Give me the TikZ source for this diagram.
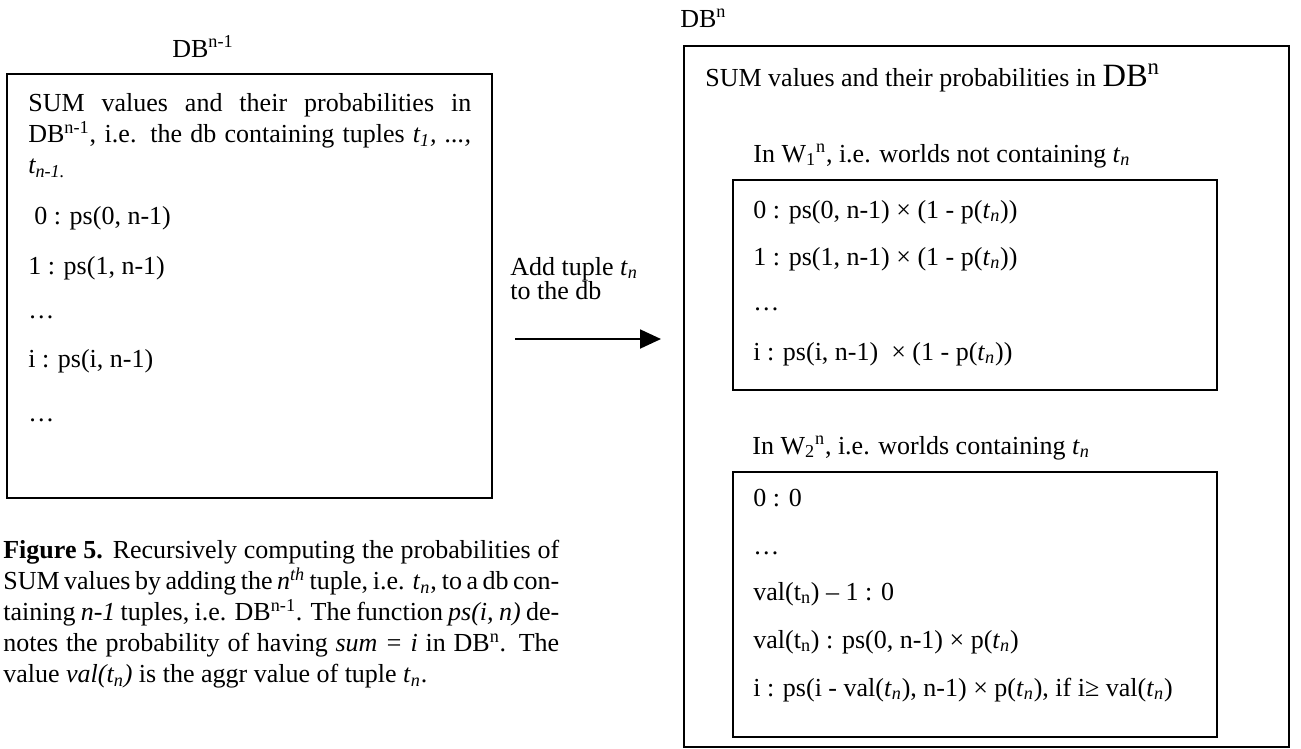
\documentclass[tikz,border=0pt]{standalone}
\usepackage{fontspec}
\setmainfont{Liberation Serif}
\usetikzlibrary{arrows.meta}
\newcommand{\tsubn}{\textit{t}\textsubscript{\textit{n}}}

\begin{document}
\begin{tikzpicture}[x=0.02cm, y=-0.02cm,
  font=\fontsize{14.8}{17.6}\selectfont,
  frame/.style={draw, line width=1.1pt, inner sep=0pt},
  txt/.style={anchor=base west, inner sep=0pt},
  para/.style={anchor=north west, inner sep=0pt, align=justify},
  flow/.style={line width=1.1pt, -{Triangle[length=4.2mm, width=3.8mm]}}]
  \useasboundingbox (0,0) rectangle (1301,748);
  % database before the new tuple
  \node[txt] (oldlbl) at (172,57) {DB\textsuperscript{n-1}};
  \node[frame, minimum width=9.7cm, minimum height=8.48cm] (olddb) at (249.5,286) {};
  \node[para, text width=8.86cm] (oldsum) at (28,93) {SUM values and their probabilities in\linebreak DB\textsuperscript{n-1}, i.e. the db containing tuples \textit{t\textsubscript{1}, ...,}\linebreak \textit{t\textsubscript{n-1.}}};
  \node[txt] (old0) at (34,224) {0 : ps(0, n-1)};
  \node[txt] (old1) at (28,274) {1 : ps(1, n-1)};
  \node[txt] (olddots) at (28,318) {…};
  \node[txt] (oldi) at (28,367) {i : ps(i, n-1)};
  \node[txt] (olddots2) at (28,421) {…};
  % caption
  \node[para, text width=11.12cm] (caption) at (3,540) {\textbf{Figure 5.} Recursively computing the probabilities of\linebreak SUM values by adding the \textit{n\textsuperscript{th}} tuple, i.e. \tsubn, to a db con-\linebreak taining \textit{n-1} tuples, i.e. DB\textsuperscript{n-1}. The function \textit{ps(i, n)} de-\linebreak notes the probability of having \textit{sum = i} in DB\textsuperscript{n}. The\linebreak value \textit{val(t\textsubscript{n})} is the aggr value of tuple \tsubn.};
  % step
  \node[txt] (addlbl) at (510,275) {Add tuple \tsubn};
  \node[txt] (addlbl2) at (510,299) {to the db};
  \coordinate (arrs) at (515,339);
  \coordinate (arre) at (661,339);
  \draw[flow] (arrs) -- (arre);
  % database with the new tuple
  \node[txt] (newlbl) at (680,27) {DB\textsuperscript{n}};
  \node[frame, minimum width=12.1cm, minimum height=14.02cm] (newdb) at (986.5,396.5) {};
  \node[txt] (newsum) at (705,86) {SUM values and their probabilities in {\fontsize{18.5}{20}\selectfont DB\textsuperscript{n}}};
  \node[txt] (w1lbl) at (753,162) {In W\textsubscript{1}\textsuperscript{n}, i.e. worlds not containing \tsubn};
  \node[frame, minimum width=9.68cm, minimum height=4.2cm] (w1box) at (975,285) {};
  \node[txt] (w1a) at (753,218) {0 : ps(0, n-1) × (1 - p(\tsubn))};
  \node[txt] (w1b) at (753,265) {1 : ps(1, n-1) × (1 - p(\tsubn))};
  \node[txt] (w1c) at (753,310) {…};
  \node[txt] (w1d) at (753,360) {i : ps(i, n-1) ~× (1 - p(\tsubn))};
  \node[txt] (w2lbl) at (752,454) {In W\textsubscript{2}\textsuperscript{n}, i.e. worlds containing \tsubn};
  \node[frame, minimum width=9.68cm, minimum height=5.3cm] (w2box) at (975,604.5) {};
  \node[txt] (w2a) at (753,506) {0 : 0};
  \node[txt] (w2b) at (753,554) {…};
  \node[txt] (w2c) at (753,600) {val(t\textsubscript{n}) – 1 : 0};
  \node[txt] (w2d) at (753,648) {val(t\textsubscript{n}) : ps(0, n-1) × p(\tsubn)};
  \node[txt] (w2e) at (753,696) {i : ps(i - val(\tsubn), n-1) × p(\tsubn), if i≥ val(\tsubn)};
\end{tikzpicture}
\end{document}
